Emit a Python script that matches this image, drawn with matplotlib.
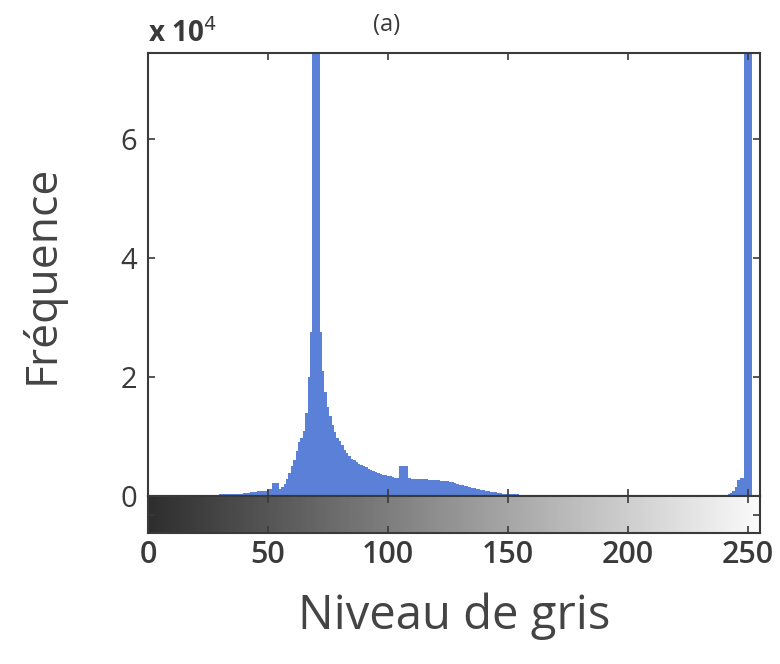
import numpy as np
import matplotlib.pyplot as plt

# grey-level histogram counts (x 1e4), bins 0..255
counts_lo = [0.005] * 10 + [0.01] * 10 + [0.015] * 10 + [0.03] * 10   # 0-39
counts_40_68 = [0.05, 0.05, 0.05, 0.06, 0.06, 0.07, 0.08, 0.08, 0.09, 0.09,
                0.10, 0.11, 0.22, 0.22, 0.22, 0.12, 0.15, 0.20, 0.28, 0.38,
                0.50, 0.60, 0.75, 0.90, 0.98, 1.10, 1.40, 2.00, 2.75]
counts_69_71 = [9.0, 9.5, 9.0]
counts_72_110 = [2.75, 2.10, 1.75, 1.50, 1.35, 1.20, 1.08, 0.98, 0.92, 0.85,
                 0.78, 0.73, 0.68, 0.63, 0.60, 0.57, 0.54, 0.52, 0.50, 0.48,
                 0.46, 0.44, 0.42, 0.40, 0.38, 0.37, 0.36, 0.35, 0.34, 0.33,
                 0.32, 0.31, 0.31, 0.51, 0.51, 0.51, 0.51, 0.30, 0.29]
counts_111_160 = [0.28, 0.28, 0.28, 0.28, 0.28, 0.28, 0.27, 0.27, 0.27, 0.27,
                  0.27, 0.26, 0.26, 0.25, 0.25, 0.24, 0.23, 0.22, 0.20, 0.19,
                  0.18, 0.17, 0.16, 0.15, 0.14, 0.13, 0.12, 0.11, 0.10, 0.10,
                  0.09, 0.08, 0.07, 0.06, 0.06, 0.05, 0.05, 0.04, 0.04, 0.04,
                  0.035, 0.03, 0.03, 0.03, 0.025, 0.025, 0.02, 0.02, 0.02, 0.02]
counts_161_244 = [0.015] * 40 + [0.012] * 40 + [0.02, 0.03, 0.05, 0.08]
counts_245_255 = [0.15, 0.27, 0.30, 0.30, 10.0, 10.0, 10.0, 0, 0, 0, 0]

counts = np.array(counts_lo + counts_40_68 + counts_69_71 + counts_72_110
                  + counts_111_160 + counts_161_244 + counts_245_255) * 1e4
levels = np.arange(len(counts))

xticks = [0, 50, 100, 150, 200, 250]
yticks = [0, 2e4, 4e4, 6e4]
ytick_labels = ['0', '2', '4', '6']

plt.rcParams['font.family'] = ['Open Sans', 'DejaVu Sans']
dark = '#3a3a3a'

fig = plt.figure(figsize=(7.8, 6.64), dpi=100)
ax = fig.add_axes([0.1897, 0.2530, 0.7846, 0.6672])
cax = fig.add_axes([0.1897, 0.1973, 0.7846, 0.0557])

ax.bar(levels, counts, width=1.0, color='#5a80d8', linewidth=0)
ax.set_xlim(0, 255)
ax.set_ylim(0, 7.45e4)
ax.set_xticks(xticks)
ax.set_xticklabels([])
ax.set_yticks(yticks)
ax.set_yticklabels(ytick_labels, fontsize=21, color=dark)
ax.tick_params(direction='in', top=True, right=True, length=5, width=1.2,
               color=dark, pad=8)
for s in ax.spines.values():
    s.set_color(dark)
    s.set_linewidth(1.5)
ax.text(0, 1.008, r'x 10$^{4}$', transform=ax.transAxes, fontsize=20,
        fontweight='bold', color=dark, ha='left', va='bottom')
ax.set_ylabel('Fréquence', fontsize=32, color='#444444', labelpad=40)
ax.text(0.39, 1.035, '(a)', transform=ax.transAxes, fontsize=17,
        color=dark, ha='center', va='bottom')

# grey scale strip
grad = np.linspace(0.18, 0.98, 256).reshape(1, -1)
cax.imshow(grad, cmap='gray', vmin=0, vmax=1, aspect='auto',
           extent=[0, 255, 0, 1])
cax.set_xlim(0, 255)
cax.set_ylim(0, 1)
cax.set_xticks(xticks)
cax.set_xticklabels([str(t) for t in xticks], fontsize=22, color=dark,
                    fontweight='semibold')
cax.set_yticks([0.5])
cax.set_yticklabels([])
cax.tick_params(direction='in', top=True, right=True, length=5, width=1.2,
                color=dark, pad=5)
for s in cax.spines.values():
    s.set_color(dark)
    s.set_linewidth(1.5)
cax.set_xlabel('Niveau de gris', fontsize=34, color='#444444', labelpad=16)

fig.savefig('out.png', dpi=100)
